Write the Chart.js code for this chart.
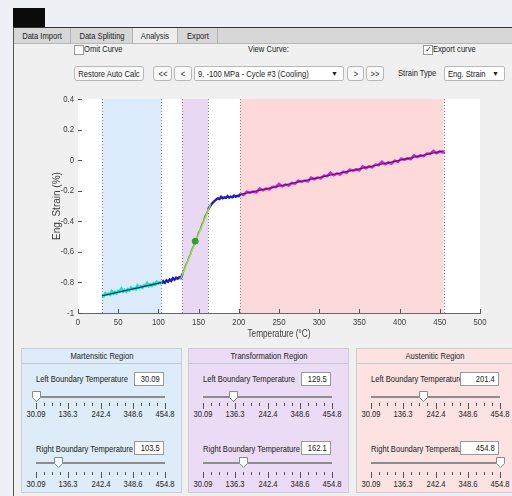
<!DOCTYPE html>
<html>
<head>
<meta charset="utf-8">
<script src="https://cdn.jsdelivr.net/npm/chart.js@4.4.1/dist/chart.umd.min.js"></script>
<style>
  body { margin:0; width:512px; height:496px; overflow:hidden; background:#eef0f5; position:relative;
         font-family:"Liberation Sans",Arial,sans-serif; font-size:9.5px; color:#222; }
  .abs { position:absolute; white-space:nowrap; }
  .sq, .sqr { display:inline-block; transform:scaleX(0.8); white-space:nowrap; }
  .sq { transform-origin:0 50%; }
  .sqr { transform-origin:100% 50%; }
  .sqc { position:absolute; left:50%; top:0; white-space:nowrap; transform:translateX(-50%) scaleX(0.8); }
  #win { left:13px; top:27px; width:499px; height:469px; background:#f0f0f0; border-top:1px solid #333; border-left:1px solid #555; }
  #tabs { left:14px; top:28px; width:498px; height:15px; background:#d7d7d7; border-bottom:1px solid #b8b8b8; }
  .tab { top:0; height:15px; line-height:15px; text-align:center; border-right:1px solid #b3b3b3; }
  .btn { background:#f8f8f8; border:1px solid #b8b8b8; border-radius:3px; height:15px; line-height:13px; text-align:center; box-sizing:border-box; }
  .chk { width:8px; height:8px; background:#fff; border:1px solid #999; }
  .edit { background:#fff; border:1px solid #9a9a9a; height:14px; line-height:12px; text-align:right; padding-right:3px; box-sizing:border-box; }
  .panel { top:348px; height:145px; box-sizing:border-box; overflow:hidden; }
  #chartBox { left:0; top:85px; width:512px; height:262px; }
</style>
</head>
<body>
<div id="win" class="abs"></div>
<div class="abs" style="left:13px;top:8px;width:32px;height:19px;background:#0b0b0b;"></div>
<div id="tabs" class="abs">
  <div class="tab abs" style="left:0;width:56px;"><span class="sqc">Data Import</span></div>
  <div class="tab abs" style="left:57px;width:61px;"><span class="sqc">Data Splitting</span></div>
  <div class="tab abs" style="left:119px;width:44px;background:#ededed;"><span class="sqc">Analysis</span></div>
  <div class="tab abs" style="left:164px;width:39px;"><span class="sqc">Export</span></div>
</div>

<!-- top controls -->
<div class="abs chk" style="left:74px;top:45px;"></div>
<div class="abs" style="left:84px;top:43px;"><span class="sq">Omit Curve</span></div>
<div class="abs btn" style="left:74px;top:66px;width:70px;"><span class="sqc">Restore Auto Calc</span></div>
<div class="abs" style="left:248px;top:43px;"><span class="sq">View Curve:</span></div>
<div class="abs btn" style="left:153px;top:66px;width:19px;"><span class="sqc">&lt;&lt;</span></div>
<div class="abs btn" style="left:174px;top:66px;width:18px;"><span class="sqc">&lt;</span></div>
<div class="abs btn" style="left:194px;top:66px;width:150px;text-align:left;padding-left:3px;background:#fff;border-radius:2px;"><span class="sq">9. -100 MPa - Cycle #3 (Cooling)</span><span class="abs" style="right:5px;top:0;font-size:7px;">&#9660;</span></div>
<div class="abs btn" style="left:347px;top:66px;width:17px;"><span class="sqc">&gt;</span></div>
<div class="abs btn" style="left:366px;top:66px;width:18px;"><span class="sqc">&gt;&gt;</span></div>
<div class="abs chk" style="left:423px;top:45px;font-size:8px;line-height:8px;text-align:center;">&#10003;</div>
<div class="abs" style="left:433px;top:43px;"><span class="sq">Export curve</span></div>
<div class="abs" style="left:398px;top:67px;"><span class="sq">Strain Type</span></div>
<div class="abs btn" style="left:444px;top:66px;width:61px;text-align:left;padding-left:3px;background:#fff;border-radius:2px;"><span class="sq">Eng. Strain</span><span class="abs" style="right:5px;top:0;font-size:7px;">&#9660;</span></div>

<div id="chartBox" class="abs"><canvas id="c" width="512" height="262"></canvas></div>
<div id="panels"></div>

<script>
// curve data (temperature in °C, eng. strain in %)
const martTemp = [30,32,34,36,38,40,42,44,46,48,50,52,54,56,58,60,62,64,66,68,70,72,74,76,78,80,82,84,86,88,90,92,94,96,98,100,102,104];
const martStrain = [-0.881,-0.889,-0.871,-0.880,-0.875,-0.881,-0.859,-0.873,-0.863,-0.871,-0.856,-0.860,-0.842,-0.860,-0.850,-0.859,-0.844,-0.852,-0.834,-0.843,-0.838,-0.844,-0.822,-0.836,-0.826,-0.834,-0.819,-0.823,-0.805,-0.823,-0.813,-0.822,-0.807,-0.814,-0.797,-0.806,-0.800,-0.808];
const lowMixTemp = [104,106,108,110,112,114,116,118,120,122,124,126,128,130];
const lowMixStrain = [-0.808,-0.792,-0.803,-0.786,-0.795,-0.781,-0.790,-0.772,-0.782,-0.769,-0.776,-0.766,-0.771,-0.742];
const transTemp = [130,132,134,136,138,140,142,144,146,148,150,152,154,156,158,160,162];
const transStrain = [-0.742,-0.718,-0.686,-0.668,-0.636,-0.614,-0.581,-0.559,-0.526,-0.509,-0.474,-0.456,-0.421,-0.402,-0.366,-0.349,-0.322];
const highMixTemp = [162,164,166,168,170,172,174,176,178,180,182,184,186,188,190,192,194,196,198,200,202];
const highMixStrain = [-0.322,-0.303,-0.288,-0.276,-0.266,-0.258,-0.250,-0.254,-0.240,-0.249,-0.243,-0.247,-0.236,-0.245,-0.239,-0.243,-0.232,-0.240,-0.233,-0.236,-0.221];
const austTemp = [202,206,210,214,218,222,226,230,234,238,242,246,250,254,258,262,266,270,274,278,282,286,290,294,298,302,306,310,314,318,322,326,330,334,338,342,346,350,354,358,362,366,370,374,378,382,386,390,394,398,402,406,410,414,418,422,426,430,434,438,442,446,450,454,455];
const austStrain = [-0.221,-0.227,-0.207,-0.213,-0.206,-0.210,-0.186,-0.197,-0.186,-0.191,-0.174,-0.176,-0.156,-0.171,-0.160,-0.166,-0.149,-0.154,-0.135,-0.141,-0.134,-0.138,-0.114,-0.125,-0.114,-0.119,-0.101,-0.104,-0.083,-0.099,-0.087,-0.094,-0.076,-0.082,-0.062,-0.069,-0.061,-0.066,-0.041,-0.053,-0.041,-0.047,-0.029,-0.032,-0.011,-0.027,-0.015,-0.022,-0.004,-0.010,0.010,0.004,0.011,0.007,0.031,0.020,0.031,0.026,0.043,0.041,0.061,0.046,0.057,0.051,0.056];

// linear fits
const martFitTemp = [30.09, 103.5];
const martFitStrain = [-0.887, -0.801];
const transFitTemp = [127, 165];
const transFitStrain = [-0.785, -0.288];
const austFitTemp = [201.4, 454.8];
const austFitStrain = [-0.225, 0.061];
const midTemp = [145.8];
const midStrain = [-0.530];

// region boundaries
const regionNames = ["Martensitic Region", "Transformation Region", "Austenitic Region"];
const leftBounds = [30.09, 129.5, 201.4];
const rightBounds = [103.5, 162.1, 454.8];
const regionFill = ["#dcebfb", "#e9d8f4", "#fdd9da"];
const panelFill = ["#ddecf8", "#ecdbf5", "#fde2e2"];

const xTicks = [0,50,100,150,200,250,300,350,400,450,500];
const yTicks = [-1,-0.8,-0.6,-0.4,-0.2,0,0.2,0.4];
const yTickLabels = ["-1","-0.8","-0.6","-0.4","-0.2","0","0.2","0.4"];
const xTitle = "Temperature (°C)";
const yTitle = "Eng. Strain (%)";
const sliderLabels = ["30.09","136.3","242.4","348.6","454.8"];
const sliderMin = 30.09, sliderMax = 454.8;

function pts(xs, ys) { return xs.map((x, i) => ({x: x, y: ys[i]})); }

const fam = "'Liberation Sans',Arial,sans-serif";

// squeezed text like the original screen grab
function sqText(ctx, txt, x, y, align) {
  ctx.save();
  ctx.translate(x, y);
  ctx.scale(0.82, 1);
  ctx.textAlign = align;
  ctx.textBaseline = "middle";
  ctx.fillText(txt, 0, 0);
  ctx.restore();
}

const backdrop = {
  id: "backdrop",
  beforeDatasetsDraw(chart) {
    const {ctx, chartArea: a, scales: {x}} = chart;
    ctx.save();
    ctx.fillStyle = "#fff";
    ctx.fillRect(a.left, a.top, a.right - a.left, a.bottom - a.top);
    leftBounds.forEach((lb, i) => {
      const x0 = x.getPixelForValue(lb), x1 = x.getPixelForValue(rightBounds[i]);
      ctx.fillStyle = regionFill[i];
      ctx.fillRect(x0, a.top, x1 - x0, a.bottom - a.top);
    });
    ctx.strokeStyle = "#8a8a8a";
    ctx.lineWidth = 1;
    ctx.setLineDash([1, 2]);
    leftBounds.concat(rightBounds).forEach(v => {
      const px = Math.round(x.getPixelForValue(v)) + 0.5;
      ctx.beginPath(); ctx.moveTo(px, a.top); ctx.lineTo(px, a.bottom); ctx.stroke();
    });
    ctx.restore();
  },
  afterDraw(chart) {
    const {ctx, chartArea: a, scales: {x, y}} = chart;
    ctx.save();
    ctx.strokeStyle = "#555";
    ctx.lineWidth = 1;
    xTicks.forEach(v => {
      const px = Math.round(x.getPixelForValue(v)) + 0.5;
      ctx.beginPath(); ctx.moveTo(px, a.bottom); ctx.lineTo(px, a.bottom - 4); ctx.stroke();
    });
    yTicks.forEach(v => {
      const py = Math.round(y.getPixelForValue(v)) + 0.5;
      ctx.beginPath(); ctx.moveTo(a.left, py); ctx.lineTo(a.left + 4, py); ctx.stroke();
    });
    ctx.fillStyle = "#3a3a3a";
    ctx.font = "9.5px " + fam;
    xTicks.forEach(v => sqText(ctx, String(v), x.getPixelForValue(v), a.bottom + 9, "center"));
    yTicks.forEach((v, i) => sqText(ctx, yTickLabels[i], a.left - 4, y.getPixelForValue(v), "right"));
    ctx.font = "10px " + fam;
    sqText(ctx, xTitle, (a.left + a.right) / 2, a.bottom + 21, "center");
    ctx.translate(a.left - 21, (a.top + a.bottom) / 2);
    ctx.rotate(-Math.PI / 2);
    ctx.textAlign = "center";
    ctx.textBaseline = "middle";
    ctx.fillText(yTitle, 0, 0);
    ctx.restore();
  }
};

function line(data, color, width, order) {
  return {data: data, borderColor: color, borderWidth: width, pointRadius: 0, showLine: true, fill: false, order: order};
}

new Chart(document.getElementById("c"), {
  type: "scatter",
  data: {
    datasets: [
      line(pts(martTemp, martStrain), "#14dede", 2.8, 5),
      line(pts(lowMixTemp, lowMixStrain), "#1c1cc0", 2.4, 5),
      line(pts(transTemp, transStrain), "#3f9e3a", 1.6, 4),
      line(pts(highMixTemp, highMixStrain), "#1c1cc0", 2.4, 5),
      line(pts(austTemp, austStrain), "#d41ed4", 2.6, 5),
      line(pts(martFitTemp, martFitStrain), "#0a2a2a", 1.2, 1),
      line(pts(transFitTemp, transFitStrain), "#a8d64a", 1.3, 3),
      line(pts(austFitTemp, austFitStrain), "#3a1f5e", 1, 1),
      {data: pts(midTemp, midStrain), backgroundColor: "#2f9e2f", borderColor: "#2f9e2f", pointRadius: 3, order: 0}
    ]
  },
  plugins: [backdrop],
  options: {
    animation: false,
    responsive: false,
    layout: {padding: {left: 0, right: 32, top: 14, bottom: 0}},
    plugins: {legend: {display: false}, tooltip: {enabled: false}},
    scales: {
      x: {
        type: "linear", min: 0, max: 500,
        afterBuildTicks: s => { s.ticks = xTicks.map(v => ({value: v})); },
        afterFit: s => { s.height = 34; },
        grid: {display: false},
        border: {display: true, color: "#666", width: 1},
        ticks: {display: false}
      },
      y: {
        type: "linear", min: -1, max: 0.4,
        afterBuildTicks: s => { s.ticks = yTicks.map(v => ({value: v})); },
        afterFit: s => { s.width = 78; },
        grid: {display: false},
        border: {display: true, color: "#666", width: 1},
        ticks: {display: false}
      }
    }
  }
});

// boundary panels with sliders
const panelLeft = [21, 188, 356];
const panelWidth = [161, 161, 158];
const boxWidth = [30, 30, 39];
const holder = document.getElementById("panels");
const trackX0 = 14, trackLen = 129;

function thumb(left, top, focus) {
  const s = focus ? "#6d8fc8" : "#8a8a8a";
  return `<svg class="abs" style="left:${left - 4}px;top:${top}px" width="9" height="11"><path d="M0.5 0.5 H8.5 V6.5 L4.5 10.5 L0.5 6.5 Z" fill="#fff" stroke="${s}"/></svg>`;
}

function slider(val, trackY, tickY, labY, focus) {
  let h = `<div class="abs" style="left:${trackX0}px;top:${trackY - 1}px;width:${trackLen}px;height:2px;background:#8c8c8c;"></div>`;
  for (let i = 0; i <= 16; i++) {
    const tx = trackX0 + Math.round(i * trackLen / 16);
    const major = i % 4 === 0;
    h += `<div class="abs" style="left:${tx}px;top:${tickY}px;width:1px;height:${major ? 6 : 3}px;background:#555;"></div>`;
  }
  sliderLabels.forEach((t, i) => {
    const tx = trackX0 + i * trackLen / 4;
    h += `<div class="abs" style="left:${tx - 20}px;top:${labY - 6}px;width:40px;height:12px;"><span class="sqc">${t}</span></div>`;
  });
  const vx = trackX0 + (val - sliderMin) / (sliderMax - sliderMin) * trackLen;
  h += thumb(vx, trackY - 6, focus);
  return h;
}

regionNames.forEach((name, i) => {
  const w = panelWidth[i];
  let h = `<div class="abs panel" style="left:${panelLeft[i]}px;width:${w}px;background:${panelFill[i]};border:1px solid #c9ced6;">`;
  h += `<div class="abs" style="left:0;top:0;width:100%;height:14px;line-height:14px;border-bottom:1px solid #c3c8d0;"><span class="sqc">${name}</span></div>`;
  h += `<div class="abs" style="left:14px;top:24px;"><span class="sq">Left Boundary Temperature</span></div>`;
  h += `<div class="abs edit" style="left:${142 - boxWidth[i]}px;top:23px;width:${boxWidth[i]}px;"><span class="sqr">${leftBounds[i]}</span></div>`;
  h += slider(leftBounds[i], 48, 54, 65, false);
  h += `<div class="abs" style="left:14px;top:94px;"><span class="sq">Right Boundary Temperature</span></div>`;
  h += `<div class="abs edit" style="left:${142 - boxWidth[i]}px;top:92px;width:${boxWidth[i]}px;"><span class="sqr">${rightBounds[i]}</span></div>`;
  h += slider(rightBounds[i], 114, 123, 135, i === 0);
  h += `</div>`;
  holder.insertAdjacentHTML("beforeend", h);
});
</script>
</body>
</html>
